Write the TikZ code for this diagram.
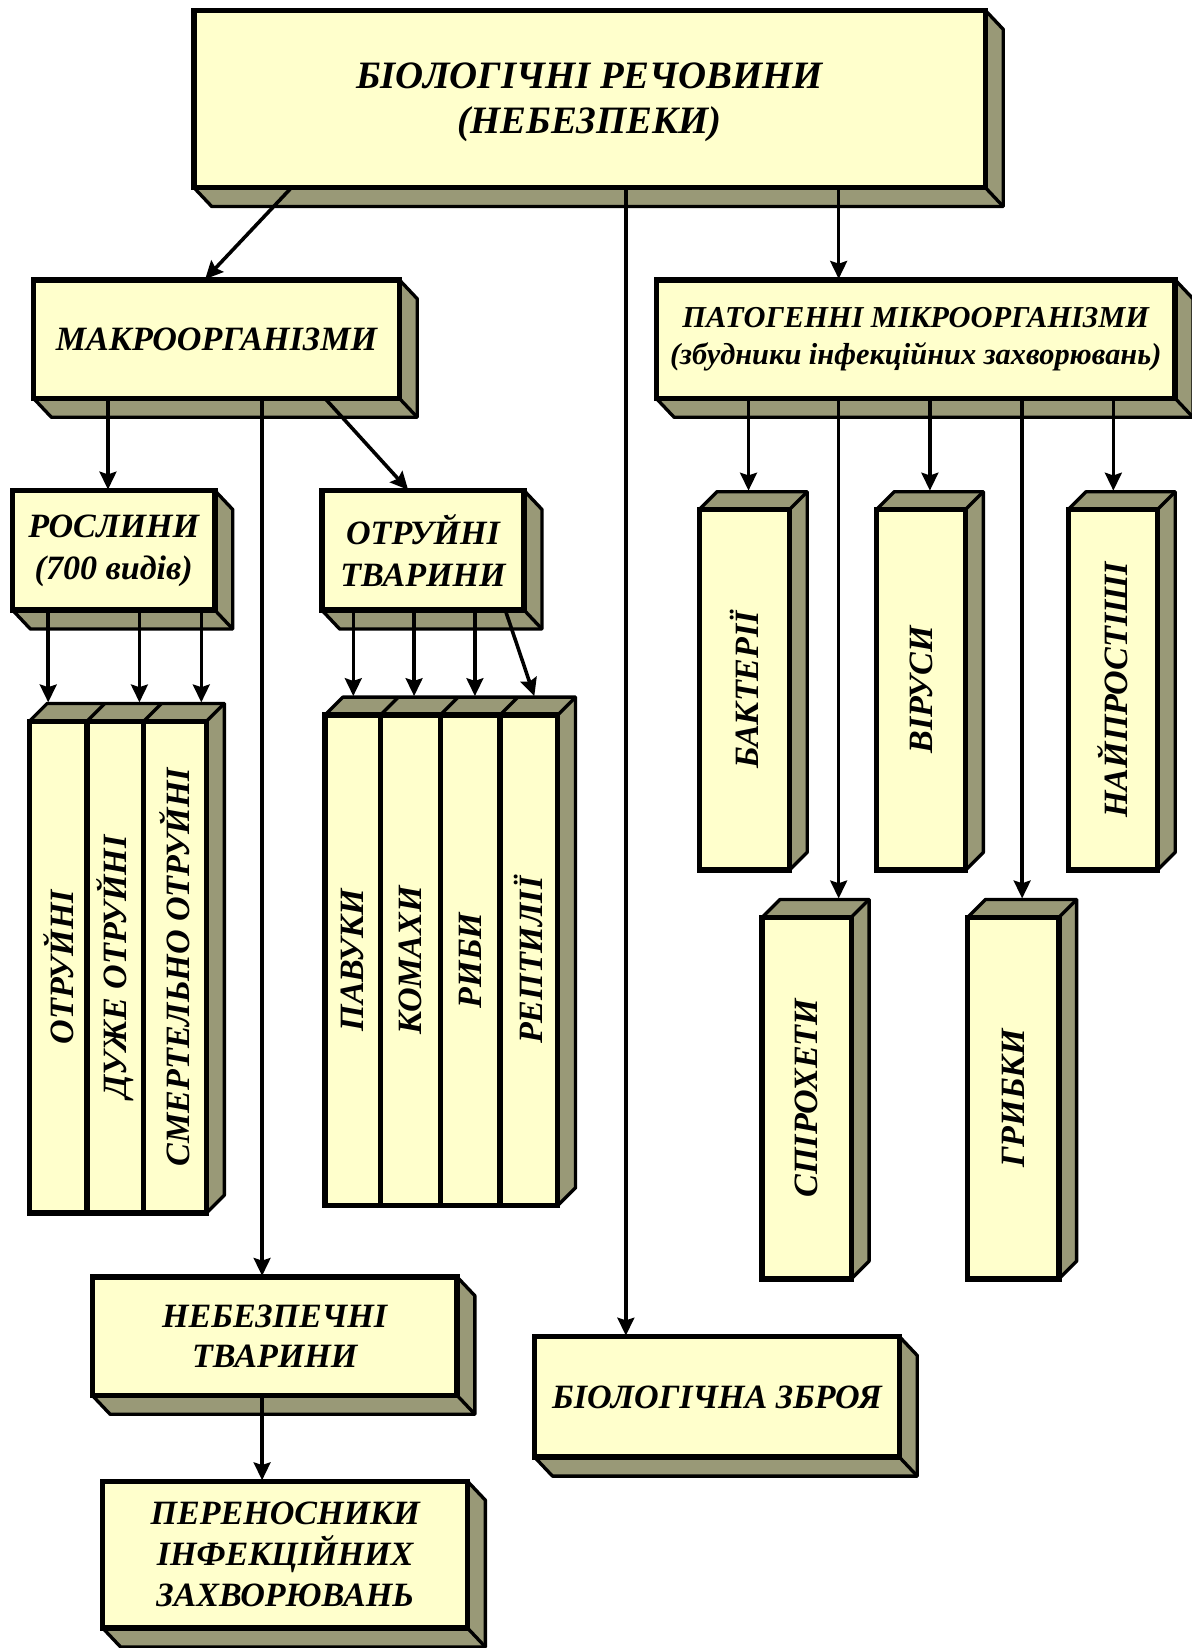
\documentclass[tikz,border=0pt]{standalone}
\usepackage{fontspec}
\setmainfont{Liberation Serif}
\usetikzlibrary{arrows.meta,calc}
\definecolor{face}{RGB}{255,255,204}
\definecolor{side}{RGB}{153,153,119}
\tikzset{
  front/.style={draw=black, fill=face, line width=5.2pt, inner sep=0pt, outer sep=0pt},
  sidef/.style={fill=side, draw=black, line width=3.2pt, line join=round},
  lbl/.style={font=\bfseries\itshape\fontsize{32.5}{40}\selectfont, align=center, inner sep=0pt},
  arr/.style={line width=3.4pt, -{Stealth[length=17pt,width=16pt,inset=2.5pt]}, shorten >=1pt},
}
% horizontal box, depth to lower right
\newcommand\boxH[5]{%
  \filldraw[sidef] (#2,#5) -- ({#2+17},{#5+18}) -- ({#4+17},{#5+18}) -- ({#4+17},{#3+18}) -- (#4,#3) -- (#4,#5) -- cycle;
  \draw[sidef] (#4,#5) -- ({#4+17},{#5+18});
  \node[front, minimum width={#4-#2}, minimum height={#5-#3}] (#1) at ({(#2+#4)/2},{(#3+#5)/2}) {};
}
% vertical box, depth to upper right
\newcommand\boxV[5]{%
  \filldraw[sidef] (#2,#3) -- ({#2+17},{#3-17}) -- ({#4+17},{#3-17}) -- ({#4+17},{#5-17}) -- (#4,#5) -- (#4,#3) -- cycle;
  \draw[sidef] (#4,#3) -- ({#4+17},{#3-17});
  \node[front, minimum width={#4-#2}, minimum height={#5-#3}] (#1) at ({(#2+#4)/2},{(#3+#5)/2}) {};
}
% front face only
\newcommand\colF[5]{%
  \node[front, minimum width={#4-#2}, minimum height={#5-#3}] (#1) at ({(#2+#4)/2},{(#3+#5)/2}) {};
}
\begin{document}
\begin{tikzpicture}[x=1pt,y=-1pt]
\useasboundingbox (0,0) rectangle (1137,1572);

% ---- boxes ----
\boxH{top}{185}{10}{940}{179}
\node[lbl, font=\bfseries\itshape\fontsize{37}{43}\selectfont] (topt) at ($(top.center)+(0,3)$) {БІОЛОГІЧНІ РЕЧОВИНИ\\(НЕБЕЗПЕКИ)};

\boxH{makro}{32}{267}{381}{380}
\node[lbl] (makrot) at (makro.center) {МАКРООРГАНІЗМИ};

\boxH{pat}{626}{267}{1121}{380}
\node[lbl, font=\bfseries\itshape\fontsize{29}{35}\selectfont] (patt) at (pat.center) {ПАТОГЕННІ МІКРООРГАНІЗМИ\\(збудники інфекційних захворювань)};

\boxH{rosl}{12}{468}{205}{582}
\node[lbl, font=\bfseries\itshape\fontsize{32.5}{40}\selectfont] (roslt) at (rosl.center) {РОСЛИНИ\\(700 видів)};

\boxH{otr}{307}{468}{500}{582}
\node[lbl, font=\bfseries\itshape\fontsize{32.5}{40}\selectfont] (otrt) at (otr.center) {ОТРУЙНІ\\ТВАРИНИ};

% plants columns
\filldraw[sidef] (28,688) -- (45,671) -- (214,671) -- (214,1140) -- (197,1157) -- (197,688) -- cycle;
\draw[sidef] (83,688) -- (100,671) (137,688) -- (154,671) (197,688) -- (214,671);
\colF{p1}{28}{688}{83}{1157}
\colF{p2}{83}{688}{137}{1157}
\colF{p3}{137}{688}{197}{1157}
\node[lbl, rotate=90] (p1t) at (p1.center) {ОТРУЙНІ};
\node[lbl, rotate=90] (p2t) at (p2.center) {ДУЖЕ ОТРУЙНІ};
\node[lbl, rotate=90] (p3t) at (p3.center) {СМЕРТЕЛЬНО ОТРУЙНІ};

% animals columns
\filldraw[sidef] (310,682) -- (327,665) -- (549,665) -- (549,1133) -- (532,1150) -- (532,682) -- cycle;
\draw[sidef] (363,682) -- (380,665) (420,682) -- (437,665) (477,682) -- (494,665) (532,682) -- (549,665);
\colF{a1}{310}{682}{363}{1150}
\colF{a2}{363}{682}{420}{1150}
\colF{a3}{420}{682}{477}{1150}
\colF{a4}{477}{682}{532}{1150}
\node[lbl, rotate=90] (a1t) at (a1.center) {ПАВУКИ};
\node[lbl, rotate=90] (a2t) at (a2.center) {КОМАХИ};
\node[lbl, rotate=90] (a3t) at (a3.center) {РИБИ};
\node[lbl, rotate=90] (a4t) at (a4.center) {РЕПТИЛІЇ};

% micro-organisms
\boxV{bakt}{667}{486}{753}{830}
\boxV{vir}{836}{486}{921}{830}
\boxV{najp}{1019}{486}{1104}{830}
\boxV{spir}{727}{875}{812}{1220}
\boxV{grib}{923}{875}{1010}{1220}
\node[lbl, rotate=90] (baktt) at (bakt.center) {БАКТЕРІЇ};
\node[lbl, rotate=90] (virt) at (vir.center) {ВІРУСИ};
\node[lbl, rotate=90] (najpt) at (najp.center) {НАЙПРОСТІШІ};
\node[lbl, rotate=90] (spirt) at (spir.center) {СПІРОХЕТИ};
\node[lbl, rotate=90] (gribt) at (grib.center) {ГРИБКИ};

% lower boxes
\boxH{neb}{88}{1218}{436}{1331}
\node[lbl, font=\bfseries\itshape\fontsize{32.5}{38}\selectfont] (nebt) at (neb.center) {НЕБЕЗПЕЧНІ\\ТВАРИНИ};

\boxH{zbr}{510}{1275}{858}{1390}
\node[lbl] (zbrt) at (zbr.center) {БІОЛОГІЧНА ЗБРОЯ};

\boxH{per}{98}{1413}{446}{1553}
\node[lbl, font=\bfseries\itshape\fontsize{32.5}{39}\selectfont] (pert) at (per.center) {ПЕРЕНОСНИКИ\\ІНФЕКЦІЙНИХ\\ЗАХВОРЮВАНЬ};

% ---- connector end points ----
\coordinate (mkin) at ($(makro.north west)+(163,0)$);
\coordinate (zin)  at ($(zbr.north west)+(87,0)$);
\coordinate (pin)  at ($(pat.north west)+(174,0)$);
\coordinate (rin)  at ($(rosl.north west)+(91,0)$);
\coordinate (oin)  at ($(otr.north west)+(83,0)$);
\coordinate (nin)  at ($(neb.north west)+(162,0)$);
\coordinate (perin) at ($(per.north west)+(152,0)$);
\coordinate (p1in) at ($(p1.north west)+(18,-17)$);
\coordinate (p2in) at ($(p2.north west)+(50,-17)$);
\coordinate (p3in) at ($(p3.north west)+(55,-17)$);
\coordinate (a1in) at ($(a1.north west)+(27,-17)$);
\coordinate (a2in) at ($(a2.north west)+(32,-17)$);
\coordinate (a3in) at ($(a3.north west)+(33,-17)$);
\coordinate (a4in) at ($(a4.north west)+(33,-17)$);
\coordinate (bin)  at ($(bakt.north west)+(47,-17)$);
\coordinate (vin)  at ($(vir.north west)+(51,-17)$);
\coordinate (nain) at ($(najp.north west)+(43,-17)$);
\coordinate (sin)  at ($(spir.north west)+(73,-17)$);
\coordinate (gin)  at ($(grib.north west)+(52,-17)$);

% ---- connectors ----
\draw[arr] ($(top.south west)+(93,0)$) -- (mkin);
\draw[arr] (zin |- top.south) -- (zin);
\draw[arr] (pin |- top.south) -- (pin);

\draw[arr] (rin |- makro.south) -- (rin);
\draw[arr] ($(makro.south west)+(278,0)$) -- (oin);
\draw[arr] (nin |- makro.south) -- (nin);
\draw[arr] (perin |- neb.south) -- (perin);

\draw[arr] (p1in |- rosl.south) -- (p1in);
\draw[arr] (p2in |- rosl.south) -- (p2in);
\draw[arr] (p3in |- rosl.south) -- (p3in);

\draw[arr] (a1in |- otr.south) -- (a1in);
\draw[arr] (a2in |- otr.south) -- (a2in);
\draw[arr] (a3in |- otr.south) -- (a3in);
\draw[arr] ($(otr.south west)+(175,0)$) -- (a4in);

\draw[arr] (bin |- pat.south) -- (bin);
\draw[arr] (vin |- pat.south) -- (vin);
\draw[arr] (nain |- pat.south) -- (nain);
\draw[arr] (sin |- pat.south) -- (sin);
\draw[arr] (gin |- pat.south) -- (gin);
\end{tikzpicture}
\end{document}
